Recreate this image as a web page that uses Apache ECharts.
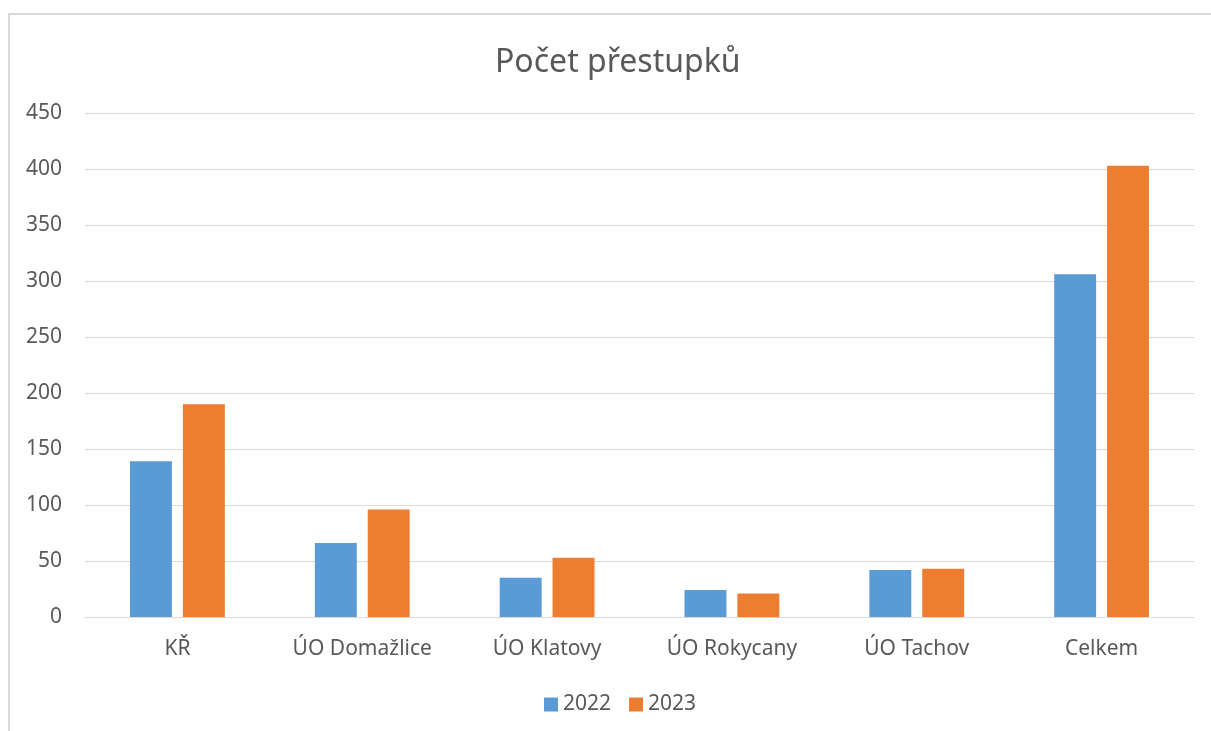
<!DOCTYPE html>
<html>
<head>
<meta charset="utf-8">
<script src="https://cdn.jsdelivr.net/npm/echarts@6/dist/echarts.min.js"></script>
<style>
  html, body { margin: 0; padding: 0; background: #fff; }
  #frame { position: absolute; left: 8px; top: 13px; width: 1210px; height: 730px;
           border-left: 2px solid #d9d9d9; border-top: 2px solid #d9d9d9; }
  #main { position: absolute; left: 0; top: 0; width: 1211px; height: 731px; }
</style>
</head>
<body>
<div id="frame"></div>
<div id="main"></div>
<script>
var kategorie = ['KŘ', 'ÚO Domažlice', 'ÚO Klatovy', 'ÚO Rokycany', 'ÚO Tachov', 'Celkem'];
var rok2022 = [139, 66, 35, 24, 42, 306];
var rok2023 = [190, 96, 53, 21, 43, 403];

var pismo = "'Noto Sans', 'Open Sans', sans-serif";

var myChart = echarts.init(document.getElementById('main'));

var option = {
  animation: false,
  title: {
    text: 'Počet přestupků',
    left: 490,
    top: 42,
    textStyle: { color: '#595959', fontSize: 32, fontWeight: 'normal', fontFamily: pismo }
  },
  legend: {
    bottom: 11,
    left: 539,
    itemWidth: 14,
    itemHeight: 14,
    itemGap: 18,
    icon: 'rect',
    textStyle: { color: '#595959', fontSize: 21, fontFamily: pismo },
    data: ['2022', '2023']
  },
  grid: { left: 85, right: 17, top: 113, bottom: 114 },
  xAxis: {
    type: 'category',
    data: kategorie,
    axisTick: { show: false },
    axisLine: { lineStyle: { color: '#d9d9d9', width: 1 } },
    axisLabel: { color: '#595959', fontSize: 21, margin: 22, fontFamily: pismo }
  },
  yAxis: {
    type: 'value',
    min: 0,
    max: 450,
    interval: 50,
    axisLine: { show: false },
    axisTick: { show: false },
    splitLine: { lineStyle: { color: '#d9d9d9', width: 1 } },
    axisLabel: { color: '#595959', fontSize: 21, margin: 23, fontFamily: pismo }
  },
  series: [{
    name: '2022',
    type: 'bar',
    data: rok2022,
    barWidth: '22.7%',
    barGap: '26%',
    itemStyle: { color: '#5b9bd5' }
  }, {
    name: '2023',
    type: 'bar',
    data: rok2023,
    barWidth: '22.7%',
    barGap: '26%',
    itemStyle: { color: '#ed7d31' }
  }]
};

myChart.setOption(option);
</script>
</body>
</html>
